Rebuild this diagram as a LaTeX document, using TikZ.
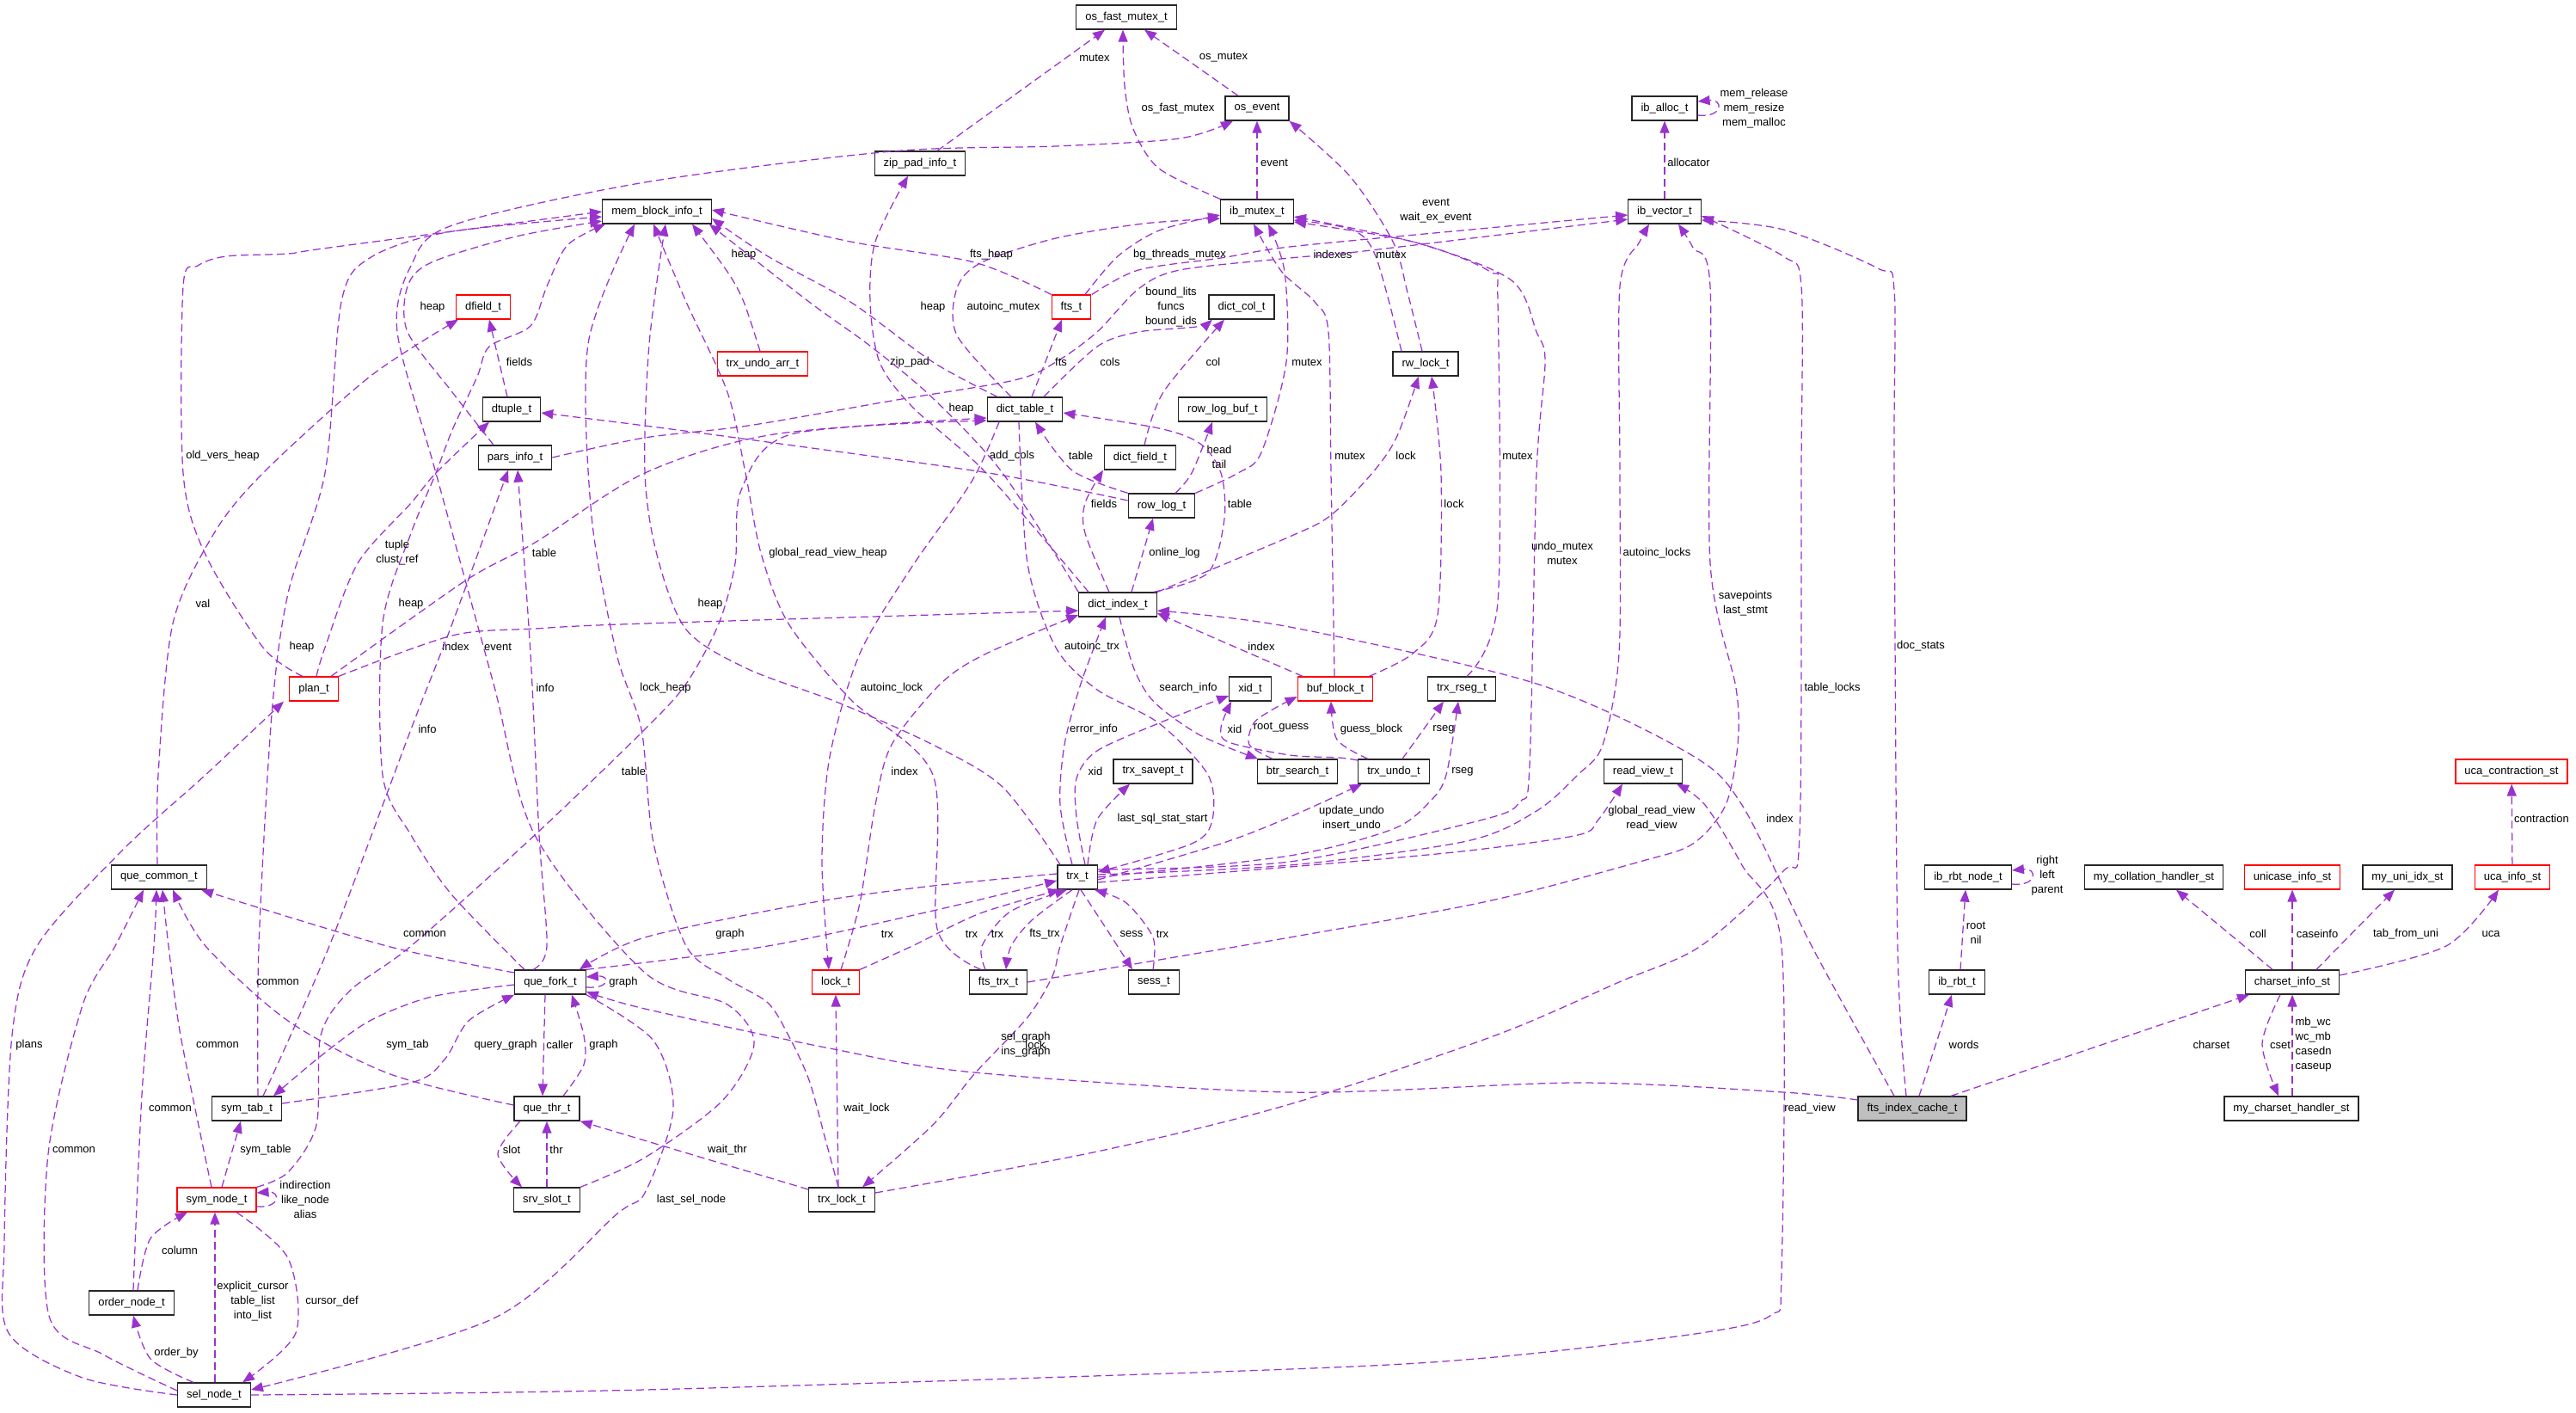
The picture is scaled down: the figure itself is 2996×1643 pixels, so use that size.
\documentclass[tikz,border=0pt]{standalone}
\usepackage{fontspec}
\setmainfont{Liberation Sans}
\usetikzlibrary{arrows.meta}

\definecolor{relcol}{HTML}{9A32CD}
\definecolor{subjfill}{HTML}{BFBFBF}
\newcommand{\fsz}{\fontsize{13}{17}\selectfont}

\tikzset{
  cls/.style={draw=black!85, line width=1.3pt, minimum height=28pt, inner xsep=10.5pt, inner ysep=0pt, font=\fsz},
  trunc/.style={cls, draw=red, line width=1.2pt},
  subj/.style={cls, fill=subjfill},
  rel/.style={draw=relcol, line width=1.25pt, dash pattern=on 9pt off 5pt, -{Triangle[length=14pt,width=11pt]}},
  lbl/.style={font=\fsz, inner sep=0pt, align=center, text=black},
}

\begin{document}
\begin{tikzpicture}[x=1pt,y=-1pt]
  \useasboundingbox (0,0) rectangle (2996,1643);
% classes
  \node[cls]   (osfm)    at (1310,20)   {os\_fast\_mutex\_t};
  \node[cls]   (osev)    at (1462,126)  {os\_event};
  \node[cls]   (zip)     at (1070,190)  {zip\_pad\_info\_t};
  \node[cls]   (alloc)   at (1936,126)  {ib\_alloc\_t};
  \node[cls]   (memb)    at (764,246)   {mem\_block\_info\_t};
  \node[cls]   (mutex)   at (1462,246)  {ib\_mutex\_t};
  \node[cls]   (vec)     at (1936,246)  {ib\_vector\_t};
  \node[trunc] (dfield)  at (562,357)   {dfield\_t};
  \node[trunc] (fts)     at (1246,357)  {fts\_t};
  \node[cls]   (dcol)    at (1444,357)  {dict\_col\_t};
  \node[trunc] (undoarr) at (887,423)   {trx\_undo\_arr\_t};
  \node[cls]   (rwlock)  at (1658,423)  {rw\_lock\_t};
  \node[cls]   (dtuple)  at (595,476)   {dtuple\_t};
  \node[cls]   (dtable)  at (1192,476)  {dict\_table\_t};
  \node[cls]   (rlbuf)   at (1422,476)  {row\_log\_buf\_t};
  \node[cls]   (pars)    at (599,532)   {pars\_info\_t};
  \node[cls]   (dfld)    at (1326,532)  {dict\_field\_t};
  \node[cls]   (rlog)    at (1351,588)  {row\_log\_t};
  \node[cls]   (dindex)  at (1300,703)  {dict\_index\_t};
  \node[trunc] (plan)    at (365,801)   {plan\_t};
  \node[cls]   (xid)     at (1454,801)  {xid\_t};
  \node[trunc] (bufb)    at (1553,801)  {buf\_block\_t};
  \node[cls]   (rseg)    at (1700,801)  {trx\_rseg\_t};
  \node[cls]   (savept)  at (1341,897)  {trx\_savept\_t};
  \node[cls]   (btrs)    at (1509,897)  {btr\_search\_t};
  \node[cls]   (tundo)   at (1621,897)  {trx\_undo\_t};
  \node[cls]   (rview)   at (1911,897)  {read\_view\_t};
  \node[trunc] (ucac)    at (2921,897)  {uca\_contraction\_st};
  \node[cls]   (qcom)    at (185,1020)  {que\_common\_t};
  \node[cls]   (trx)     at (1253,1020) {trx\_t};
  \node[cls]   (rbtn)    at (2289,1020) {ib\_rbt\_node\_t};
  \node[cls]   (mycoll)  at (2505,1020) {my\_collation\_handler\_st};
  \node[trunc] (unic)    at (2666,1020) {unicase\_info\_st};
  \node[cls]   (uniidx)  at (2800,1020) {my\_uni\_idx\_st};
  \node[trunc] (ucai)    at (2922,1020) {uca\_info\_st};
  \node[cls]   (qfork)   at (640,1142)  {que\_fork\_t};
  \node[trunc] (lock)    at (972,1142)  {lock\_t};
  \node[cls]   (ftstrx)  at (1161,1142) {fts\_trx\_t};
  \node[cls]   (sess)    at (1342,1142) {sess\_t};
  \node[cls]   (rbt)     at (2276,1142) {ib\_rbt\_t};
  \node[cls]   (cs)      at (2666,1142) {charset\_info\_st};
  \node[cls]   (symtab)  at (287,1289)  {sym\_tab\_t};
  \node[cls]   (qthr)    at (636,1289)  {que\_thr\_t};
  \node[subj]  (fic)     at (2224,1289) {fts\_index\_cache\_t};
  \node[cls]   (csh)     at (2665,1289) {my\_charset\_handler\_st};
  \node[trunc] (symnode) at (252,1395)  {sym\_node\_t};
  \node[cls]   (slot)    at (636,1395)  {srv\_slot\_t};
  \node[cls]   (tlock)   at (979,1395)  {trx\_lock\_t};
  \node[cls]   (onode)   at (153,1515)  {order\_node\_t};
  \node[cls]   (sel)     at (249,1622)  {sel\_node\_t};
%
% mutexes and events
  \draw[rel] ([xshift=20pt]zip.north) -- ([xshift=-25pt]osfm.south) node[lbl] (t1) at (1273,67) {mutex};
  \draw[rel] plot[smooth] coordinates {(mutex.north west) (1348,196) (1318,150) (1308,100) ([xshift=-4pt]osfm.south)} node[lbl] (t2) at (1370,126) {os\_fast\_mutex};
  \draw[rel] ([xshift=-22pt]osev.north) -- ([xshift=21pt]osfm.south) node[lbl] (t3) at (1423,67) {os\_mutex};
  \draw[rel] (mutex) -- (osev) node[lbl] (t4) at (1482,189) {event};
  \draw[rel] plot[smooth] coordinates {([xshift=-4pt]rwlock.north) (1637,340) (1620,281) (1570,205) (osev.south east)} node[lbl] (t5) at (1670,245) {event\\wait\_ex\_event};
  \draw[rel] plot[smooth] coordinates {(slot.north east) (750,1346) (840,1280) (877,1214) (846,1168) (750,1131) (622,971) (574,795) (507,550) (462,386) (478,309) (526,262) (750,212) (1037,176) (1228,170) (1372,161) ([xshift=-28pt]osev.south)} node[lbl] (t6) at (579,752) {event};
  \draw[rel] ([yshift=-8pt]alloc.east) .. controls +(30,3) and +(30,-3) .. ([yshift=8pt]alloc.east) node[lbl] (t7) at (2040,126) {mem\_release\\mem\_resize\\mem\_malloc};
  \draw[rel] (vec) -- (alloc) node[lbl] (t8) at (1964,189) {allocator};
  \draw[rel] plot[smooth] coordinates {([xshift=16pt]fts.north) (1300,298) (1348,268) ([yshift=-4pt]mutex.west)} node[lbl] (t9) at (1372,296) {bg\_threads\_mutex};
  \draw[rel] plot[smooth] coordinates {([xshift=-16pt]dtable.north) (1113,390) (1113,335) (1142,305) (1228,277) (1330,260) ([yshift=-8pt]mutex.west)} node[lbl] (t10) at (1167,357) {autoinc\_mutex};
  \draw[rel] plot[smooth] coordinates {([xshift=-1pt]bufb.north) (1548,550) (1545,386) (1529,351) (1490,315) ([xshift=-4pt]mutex.south)} node[lbl] (t11) at (1570,530) {mutex};
  \draw[rel] plot[smooth] coordinates {(rlog.north east) (1440,550) (1467,526) (1496,421) (1494,316) ([xshift=13pt]mutex.south)} node[lbl] (t12) at (1520,421) {mutex};
  \draw[rel] plot[smooth] coordinates {([xshift=-28pt]rwlock.north) (1600,298) (1572,267) ([yshift=-10pt]mutex.east)} node[lbl] (t13) at (1618,296) {mutex};
  \draw[rel] plot[smooth] coordinates {([xshift=6pt]rseg.north) (1742,700) (1742,351) (1733,316) (1643,281) ([yshift=-12pt]mutex.east)} node[lbl] (t14) at (1765,530) {mutex};
  \draw[rel] plot[smooth] coordinates {([yshift=9pt]trx.east) (1500,1002) (1725,953) (1768,932) (1779,890) (1787,550) (1797,421) (1787,386) (1758,326) (1650,283) ([yshift=-6pt]mutex.east)} node[lbl] (t15) at (1817,643) {undo\_mutex\\mutex};
%
% vectors
  \draw[rel] plot[smooth] coordinates {([xshift=24pt]fts.north) (1324,314) (1420,300) (1500,287) (1700,268) ([yshift=-4pt]vec.west)} node[lbl] (t16) at (1550,296) {indexes};
  \draw[rel] plot[smooth] coordinates {(pars.east) (750,509) (870,495) (1037,466) (1180,442) (1228,421) (1276,386) (1324,336) (1372,314) (1500,300) (1586,292) ([yshift=-9pt]vec.west)} node[lbl] (t17) at (1362,357) {bound\_lits\\funcs\\bound\_ids};
  \draw[rel] plot[smooth] coordinates {([yshift=3pt]trx.east) (1500,1006) (1706,978) (1787,943) (1835,901) (1864,866) (1883,760) (1884,550) (1884,333) (1907,281) ([xshift=-18pt]vec.south)} node[lbl] (t18) at (1927,643) {autoinc\_locks};
  \draw[rel] plot[smooth] coordinates {(ftstrx.east) (1500,1090) (1730,1048) (1907,1002) (1969,981) (2007,936) (2021,866) (2019,800) (1989,655) (1989,333) (1969,288) ([xshift=16pt]vec.south)} node[lbl] (t19) at (2030,702) {savepoints\\last\_stmt};
  \draw[rel] plot[smooth] coordinates {([yshift=8pt]tlock.east) (1276,1339) (1500,1284) (1739,1204) (1883,1142) (1978,1100) (2074,1013) (2093,971) (2095,550) (2095,333) (2074,298) ([yshift=-5pt]vec.east)} node[lbl] (t20) at (2131,800) {table\_locks};
  \draw[rel] plot[smooth] coordinates {([xshift=-7pt]fic.north) (2207,1100) (2203,550) (2203,337) (2184,312) (2074,267) ([yshift=-10pt]vec.east)} node[lbl] (t21) at (2234,751) {doc\_stats};
%
% dictionary
  \draw[rel] ([xshift=8pt]dtable.north) -- ([xshift=-11pt]fts.south) node[lbl] (t22) at (1234,421) {fts};
  \draw[rel] plot[smooth] coordinates {([xshift=22pt]dtable.north) (1276,403) (1324,386) (1391,380) ([xshift=-34pt]dcol.south)} node[lbl] (t23) at (1291,421) {cols};
  \draw[rel] plot[smooth] coordinates {([xshift=5pt]dfld.north) (1353,456) ([xshift=-20pt]dcol.south)} node[lbl] (t24) at (1411,421) {col};
  \draw[rel] plot[smooth] coordinates {([xshift=-34pt]dindex.north) (1147,550) (1061,473) (1023,421) (1012,351) (1018,281) ([xshift=-14pt]zip.south)} node[lbl] (t25) at (1058,421) {zip\_pad};
  \draw[rel] plot[smooth] coordinates {([xshift=-10pt]dindex.north) (1262,620) (1262,585) ([xshift=-43pt]dfld.south)} node[lbl] (t26) at (1284,586) {fields};
  \draw[rel] plot[smooth] coordinates {([xshift=16pt]rlog.north) (1386,550) ([xshift=-12pt]rlbuf.south)} node[lbl] (t27) at (1418,531) {head\\tail};
  \draw[rel] ([xshift=16pt]dindex.north) -- ([xshift=-10pt]rlog.south) node[lbl] (t28) at (1366,643) {online\_log};
  \draw[rel] plot[smooth] coordinates {(rlog.north west) (1247,547) ([xshift=12pt]dtable.south)} node[lbl] (t29) at (1257,530) {table};
  \draw[rel] plot[smooth] coordinates {([xshift=-4pt]dindex.north east) (1405,666) (1424,603) (1420,550) (1396,516) (1348,498) ([yshift=-4pt]dtable.east)} node[lbl] (t30) at (1442,586) {table};
  \draw[rel] plot[smooth] coordinates {([yshift=6pt]rlog.west) (1150,550) (900,515) (750,495) ([yshift=-4pt]dtuple.east)} node[lbl] (t31) at (1177,530) {add\_cols};
  \draw[rel] plot[smooth] coordinates {([xshift=20pt]plan.north) (540,676) (622,631) (750,550) (900,505) ([yshift=-10pt]dtable.west)} node[lbl] (t32) at (633,643) {table};
  \draw[rel] plot[smooth] coordinates {(symnode.north east) (335,1363) (368,1308) (373,1204) (407,1152) (478,1100) (622,971) (750,848) (798,795) (836,725) (855,655) (862,570) (920,505) ([yshift=-13pt]dtable.west)} node[lbl] (t33) at (737,897) {table};
  \draw[rel] plot[smooth] coordinates {(plan.north east) (526,739) (622,731) (750,725) ([yshift=-7pt]dindex.west)} node[lbl] (t34) at (530,752) {index};
  \draw[rel] plot[smooth] coordinates {([xshift=6pt]lock.north) (1000,1050) (1018,936) (1037,866) (1094,795) (1147,760) ([yshift=-12pt]dindex.west)} node[lbl] (t35) at (1052,897) {index};
  \draw[rel] plot[smooth] coordinates {([xshift=-30pt]dtable.south) (1130,560) (1060,660) (1000,760) (965,880) (956,1000) ([xshift=-8pt]lock.north)} node[lbl] (t36) at (1037,800) {autoinc\_lock};
  \draw[rel] plot[smooth] coordinates {([xshift=-21pt]fic.north) (2107,1100) (2026,936) (1964,876) (1787,795) (1500,729) ([yshift=-7pt]dindex.east)} node[lbl] (t37) at (2070,952) {index};
  \draw[rel] ([xshift=-38pt]bufb.north) -- ([yshift=-10pt]dindex.east) node[lbl] (t38) at (1467,752) {index};
  \draw[rel] plot[smooth] coordinates {([xshift=-6pt]trx.north) (1233,936) (1238,866) (1257,795) ([xshift=-14pt]dindex.south)} node[lbl] (t39) at (1272,848) {error\_info};
  \draw[rel] plot[smooth] coordinates {([xshift=-7pt]dtable.south) (1195,655) (1228,753) (1276,802) (1348,841) (1405,901) (1410,953) (1386,981) ([yshift=6pt]trx.east)} node[lbl] (t40) at (1270,752) {autoinc\_trx};
  \draw[rel] plot[smooth] coordinates {(dindex.north east) (1500,624) (1548,599) (1596,550) (1624,509) ([xshift=-8pt]rwlock.south)} node[lbl] (t41) at (1635,530) {lock};
  \draw[rel] plot[smooth] coordinates {([xshift=-5pt]bufb.north east) (1643,760) (1672,715) (1676,550) ([xshift=7pt]rwlock.south)} node[lbl] (t42) at (1691,586) {lock};
  \draw[rel] plot[smooth] coordinates {([xshift=2pt]dindex.south) (1319,778) (1343,817) (1396,855) ([xshift=-46pt]btrs.north)} node[lbl] (t43) at (1382,800) {search\_info};
%
% transactions
  \draw[rel] plot[smooth] coordinates {([yshift=13pt]tundo.west) (1557,881) (1500,878) (1429,863) (1420,846) ([xshift=-22pt]xid.south)} node[lbl] (t44) at (1436,848) {xid};
  \draw[rel] plot[smooth] coordinates {([xshift=-30pt]tundo.north) (1555,860) ([xshift=-5pt]bufb.south)} node[lbl] (t45) at (1595,848) {guess\_block};
  \draw[rel] plot[smooth] coordinates {([xshift=-29pt]btrs.north) (1453,866) (1458,841) (1480,825) ([yshift=-9pt]bufb.west)} node[lbl] (t46) at (1490,846) {root\_guess};
  \draw[rel] plot[smooth] coordinates {([xshift=9pt]trx.north) (1252,950) (1252,905) (1276,873) (1350,840) ([yshift=-8pt]xid.west)} node[lbl] (t47) at (1274,897) {xid};
  \draw[rel] plot[smooth] coordinates {([xshift=12pt]trx.north) (1276,953) ([xshift=-27pt]savept.south)} node[lbl] (t48) at (1352,952) {last\_sql\_stat\_start};
  \draw[rel] ([xshift=10pt]tundo.north) -- ([xshift=-21pt]rseg.south) node[lbl] (t49) at (1679,848) {rseg};
  \draw[rel] plot[smooth] coordinates {(trx.east) (1500,995) (1620,964) (1663,932) (1682,901) ([xshift=-4pt]rseg.south)} node[lbl] (t50) at (1701,897) {rseg};
  \draw[rel] plot[smooth] coordinates {([yshift=-3pt]trx.east) (1420,981) (1500,950) ([xshift=-37pt]tundo.south)} node[lbl] (t51) at (1572,952) {update\_undo\\insert\_undo};
  \draw[rel] plot[smooth] coordinates {([yshift=-6pt]trx.east) (1500,1008) (1700,990) (1835,971) (1859,953) ([xshift=-24pt]rview.south)} node[lbl] (t52) at (1921,952) {global\_read\_view\\read\_view};
  \draw[rel] plot[smooth] coordinates {(sel.east) (750,1616) (1500,1592) (1739,1578) (1978,1550) (2060,1529) (2072,1480) (2072,1100) (2026,1006) (1983,936) ([xshift=39pt]rview.south)} node[lbl] (t53) at (2105,1289) {read\_view};
  \draw[rel] plot[smooth] coordinates {([xshift=2pt]trx.south) (1233,1100) (1224,1135) (1195,1183) (1133,1249) (1085,1308) ([xshift=24pt]tlock.north)} node[lbl] (t54) at (1204,1215) {lock};
  \draw[rel] plot[smooth] coordinates {([yshift=4pt]trx.west) (1085,1030) (941,1050) (750,1090) ([xshift=-8pt]qfork.north east)} node[lbl] (t55) at (849,1086) {graph};
  \draw[rel] plot[smooth] coordinates {(qfork.north east) (893,1100) (1085,1059) ([yshift=-4pt]trx.west)} node[lbl] (t56) at (1032,1086) {trx};
  \draw[rel] plot[smooth] coordinates {(lock.north east) (1061,1100) (1140,1062) ([xshift=-20pt]trx.south)} node[lbl] (t57) at (1130,1086) {trx};
  \draw[rel] plot[smooth] coordinates {([xshift=-15pt]ftstrx.north) (1142,1100) (1175,1060) ([xshift=-12pt]trx.south)} node[lbl] (t58) at (1160,1086) {trx};
  \draw[rel] plot[smooth] coordinates {([xshift=-6pt]trx.south) (1200,1070) (1176,1100) ([xshift=9pt]ftstrx.north)} node[lbl] (t59) at (1215,1086) {fts\_trx};
  \draw[rel] plot[smooth] coordinates {([xshift=4pt]trx.south) (1290,1085) ([xshift=-25pt]sess.north)} node[lbl] (t60) at (1316,1086) {sess};
  \draw[rel] plot[smooth] coordinates {([xshift=-1pt]sess.north) (1341,1090) (1310,1050) ([xshift=20pt]trx.south)} node[lbl] (t61) at (1352,1086) {trx};
%
% heaps
  \draw[rel] plot[smooth] coordinates {([xshift=-13pt]plan.north) (306,753) (239,645) (213,550) (213,333) (230,309) (263,298) (335,295) (383,288) (memb.west)} node[lbl] (t62) at (259,530) {old\_vers\_heap};
  \draw[rel] plot[smooth] coordinates {([xshift=13pt]symtab.north) (301,1100) (316,831) (335,690) (378,550) (397,351) (430,300) (520,270) ([yshift=-6pt]memb.west)} node[lbl] (t63) at (351,752) {heap};
  \draw[rel] plot[smooth] coordinates {([xshift=-25pt]pars.north) (526,456) (474,386) (474,333) (502,305) (600,275) ([yshift=-11pt]memb.west)} node[lbl] (t64) at (503,357) {heap};
  \draw[rel] plot[smooth] coordinates {([xshift=-30pt]qfork.north) (526,1041) (478,971) (445,901) (445,725) (478,620) (507,550) (526,500) (555,438) (569,403) (617,379) (636,333) (660,285) ([xshift=4pt]memb.south west)} node[lbl] (t65) at (478,702) {heap};
  \draw[rel] plot[smooth] coordinates {([xshift=-20pt]ftstrx.north) (1090,1080) (1085,901) (989,813) (917,725) (885,643) (867,550) (846,456) (798,351) ([xshift=-4pt]memb.south)} node[lbl] (t66) at (826,702) {heap};
  \draw[rel] plot[smooth] coordinates {([xshift=-20pt]trx.north) (1166,915) (1085,866) (975,817) (870,778) (798,732) (764,645) (750,550) (755,400) ([xshift=10pt]memb.south)} node[lbl] (t67) at (963,643) {global\_read\_view\_heap};
  \draw[rel] plot[smooth] coordinates {([xshift=-4pt]tlock.north) (960,1325) (941,1256) (917,1204) (893,1166) (846,1138) (798,1100) (760,980) (746,848) (717,760) (688,600) (684,400) ([xshift=38pt]memb.south west)} node[lbl] (t68) at (774,800) {lock\_heap};
  \draw[rel] plot[smooth] coordinates {([xshift=-3pt]undoarr.north) (865,351) (846,316) ([xshift=41pt]memb.south)} node[lbl] (t69) at (865,296) {heap};
  \draw[rel] plot[smooth] coordinates {(fts.north west) (1133,305) (989,281) ([yshift=2pt]memb.east)} node[lbl] (t70) at (1153,296) {fts\_heap};
  \draw[rel] plot[smooth] coordinates {([xshift=-32pt]dtable.north) (1085,421) (989,351) (893,298) ([yshift=-8pt]memb.east)} node[lbl] (t71) at (1085,357) {heap};
  \draw[rel] plot[smooth] coordinates {(dindex.north west) (1166,550) (1085,463) (1013,403) (941,351) ([xshift=-3pt]memb.south east)} node[lbl] (t72) at (1118,475) {heap};
%
% parser nodes
  \draw[rel] plot[smooth] coordinates {([xshift=-2pt]qcom.north) (184,901) (201,725) (249,620) (306,550) (430,438) ([xshift=-29pt]dfield.south)} node[lbl] (t73) at (236,702) {val};
  \draw[rel] ([xshift=-5pt]dtuple.north) -- ([xshift=7pt]dfield.south) node[lbl] (t74) at (604,421) {fields};
  \draw[rel] plot[smooth] coordinates {([xshift=3pt]plan.north) (378,753) (416,655) (478,585) (507,550) ([xshift=-26pt]dtuple.south)} node[lbl] (t75) at (462,643) {tuple\\clust\_ref};
  \draw[rel] plot[smooth] coordinates {([xshift=-20pt]qfork.north) (636,1100) (627,971) (617,760) ([xshift=3pt]pars.south)} node[lbl] (t76) at (634,800) {info};
  \draw[rel] plot[smooth] coordinates {([xshift=19pt]symtab.north) (383,1100) (478,848) (526,725) ([xshift=-8pt]pars.south)} node[lbl] (t77) at (497,848) {info};
  \draw[rel] ([xshift=-6pt]qfork.south) -- ([xshift=-5pt]qthr.north) node[lbl] (t78) at (651,1215) {caller};
  \draw[rel] plot[smooth] coordinates {([xshift=19pt]qthr.north) (679,1238) (679,1204) ([xshift=25pt]qfork.south)} node[lbl] (t79) at (702,1215) {graph};
  \draw[rel] ([yshift=-6pt]qfork.east) .. controls +(28,2) and +(28,-2) .. ([yshift=6pt]qfork.east) node[lbl] (t80) at (725,1142) {graph};
  \draw[rel] plot[smooth] coordinates {([yshift=10pt]fic.west) (2074,1270) (1835,1259) (1500,1270) (1133,1247) (965,1219) (750,1173) ([yshift=-11pt]qfork.east)} node[lbl] (t81) at (1193,1215) {sel\_graph\\ins\_graph};
  \draw[rel] (slot) -- (qthr) node[lbl] (t82) at (647,1337) {thr};
  \draw[rel] plot[smooth] coordinates {([xshift=-31pt]qthr.south) (579,1342) ([xshift=-29pt]slot.north)} node[lbl] (t83) at (595,1337) {slot};
  \draw[rel] ([yshift=12pt]tlock.west) -- (qthr.south east) node[lbl] (t84) at (846,1337) {wait\_thr};
  \draw[rel] ([xshift=-4pt]tlock.north) -- (lock.south) node[lbl] (t85) at (1008,1289) {wait\_lock};
  \draw[rel] plot[smooth] coordinates {([yshift=-3pt]qfork.west) (502,1159) (430,1187) (373,1228) ([xshift=31pt]symtab.north)} node[lbl] (t86) at (474,1215) {sym\_tab};
  \draw[rel] plot[smooth] coordinates {([yshift=6pt]symtab.east) (478,1259) (517,1232) (545,1187) (qfork.south west)} node[lbl] (t87) at (588,1215) {query\_graph};
  \draw[rel] ([xshift=6pt]symnode.north) -- ([xshift=-7pt]symtab.south) node[lbl] (t88) at (309,1337) {sym\_table};
  \draw[rel] ([yshift=-8pt]symnode.east) .. controls +(28,2) and +(28,-2) .. ([yshift=8pt]symnode.east) node[lbl] (t89) at (355,1395) {indirection\\like\_node\\alias};
  \draw[rel] plot[smooth] coordinates {([yshift=11pt]qfork.west) (450,1100) ([xshift=-7pt]qcom.south east)} node[lbl] (t90) at (494,1086) {common};
  \draw[rel] plot[smooth] coordinates {([yshift=4pt]qthr.west) (454,1249) (335,1187) (239,1100) ([xshift=16pt]qcom.south)} node[lbl] (t91) at (323,1142) {common};
  \draw[rel] plot[smooth] coordinates {([xshift=-6pt]symnode.north) (210,1204) (196,1100) ([xshift=4pt]qcom.south)} node[lbl] (t92) at (253,1215) {common};
  \draw[rel] plot[smooth] coordinates {([xshift=2pt]onode.north) (165,1273) (179,1100) ([xshift=-3pt]qcom.south)} node[lbl] (t93) at (198,1289) {common};
  \draw[rel] plot[smooth] coordinates {([yshift=5pt]sel.west) (120,1575) (57,1530) (56,1342) (96,1169) (134,1100) ([xshift=-18pt]qcom.south)} node[lbl] (t94) at (86,1337) {common};
  \draw[rel] plot[smooth] coordinates {(sel.west) (96,1602) (10,1550) (5,1446) (14,1204) (43,1100) (143,988) (239,901) ([xshift=-35pt]plan.south)} node[lbl] (t95) at (34,1215) {plans};
  \draw[rel] plot[smooth] coordinates {([xshift=7pt]onode.north) (175,1440) ([xshift=-34pt]symnode.south)} node[lbl] (t96) at (209,1454) {column};
  \draw[rel] ([xshift=1pt]sel.north) -- ([xshift=-2pt]symnode.south) node[lbl] (t97) at (294,1513) {explicit\_cursor\\table\_list\\into\_list};
  \draw[rel] plot[smooth] coordinates {([xshift=23pt]symnode.south) (335,1463) (344,1550) ([xshift=33pt]sel.north)} node[lbl] (t98) at (386,1513) {cursor\_def};
  \draw[rel] plot[smooth] coordinates {([xshift=-24pt]sel.north) (175,1580) ([xshift=2pt]onode.south)} node[lbl] (t99) at (205,1573) {order\_by};
  \draw[rel] plot[smooth] coordinates {(qfork.south east) (760,1210) (783,1290) (750,1387) (717,1412) (574,1533) ([yshift=6pt]sel.east)} node[lbl] (t100) at (804,1395) {last\_sel\_node};
%
% charsets and trees
  \draw[rel] ([xshift=4pt]rbt.north) -- ([xshift=-3pt]rbtn.south) node[lbl] (t101) at (2298,1085) {root\\nil};
  \draw[rel] ([yshift=-8pt]rbtn.east) .. controls +(30,3) and +(30,-3) .. ([yshift=8pt]rbtn.east) node[lbl] (t102) at (2381,1018) {right\\left\\parent};
  \draw[rel] (ucai) -- (ucac) node[lbl] (t103) at (2956,952) {contraction};
  \draw[rel] plot[smooth] coordinates {([xshift=-23pt]cs.north) (2604,1095) ([xshift=26pt]mycoll.south)} node[lbl] (t104) at (2626,1086) {coll};
  \draw[rel] (cs) -- (unic) node[lbl] (t105) at (2695,1086) {caseinfo};
  \draw[rel] ([xshift=28pt]cs.north) -- ([xshift=-15pt]uniidx.south) node[lbl] (t106) at (2798,1086) {tab\_from\_uni};
  \draw[rel] plot[smooth] coordinates {([yshift=8pt]cs.east) (2845,1100) ([xshift=-16pt]ucai.south)} node[lbl] (t107) at (2897,1086) {uca};
  \draw[rel] ([xshift=1pt]csh.north) -- (cs.south) node[lbl, anchor=west, align=left] (t108) at (2669,1215) {mb\_wc\\wc\_mb\\casedn\\caseup};
  \draw[rel] plot[smooth] coordinates {([xshift=-14pt]cs.south) (2631,1214) ([xshift=-15pt]csh.north)} node[lbl] (t109) at (2652,1215) {cset};
  \draw[rel] ([xshift=45pt]fic.north) -- ([xshift=-50pt]cs.south) node[lbl] (t110) at (2572,1215) {charset};
  \draw[rel] ([xshift=8pt]fic.north) -- ([xshift=-6pt]rbt.south) node[lbl] (t111) at (2284,1215) {words};
\end{tikzpicture}
\end{document}
